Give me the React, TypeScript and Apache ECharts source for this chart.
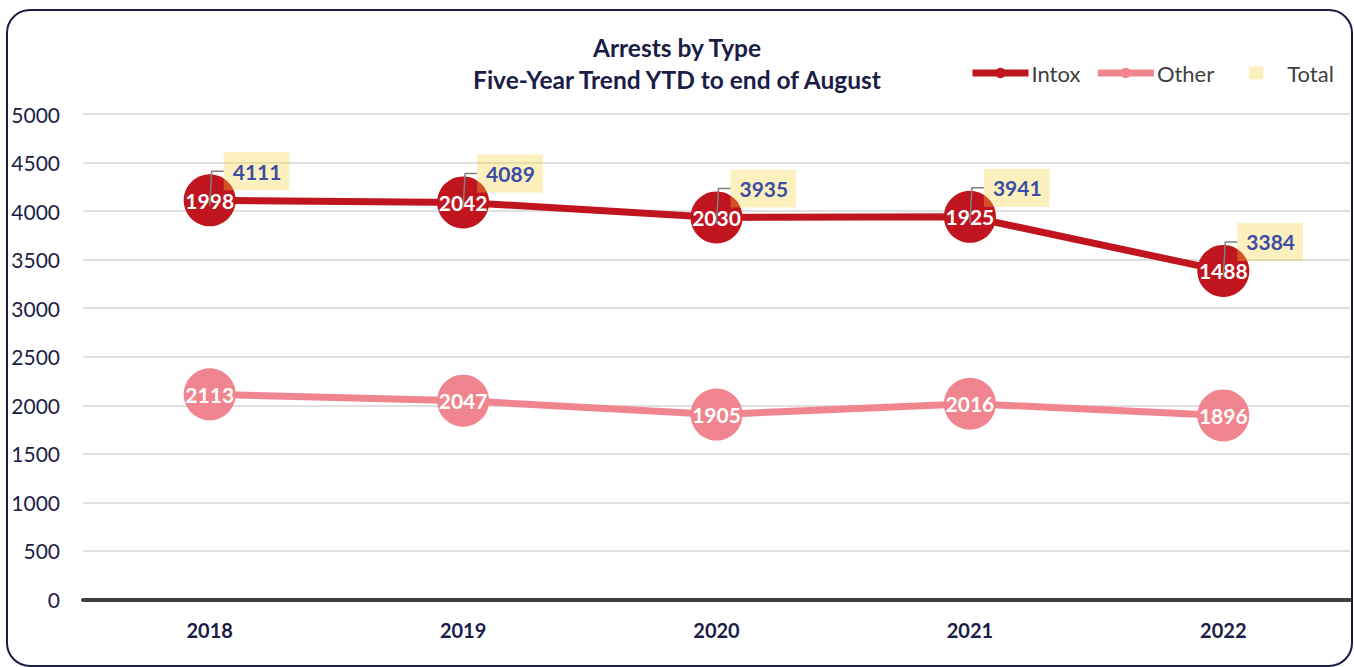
import React, { useEffect, useRef } from "react";
import * as echarts from "echarts";

// ---- data ----
const years = ["2018", "2019", "2020", "2021", "2022"];
const intox = [1998, 2042, 2030, 1925, 1488];
const other = [2113, 2047, 1905, 2016, 1896];
const totals = [4111, 4089, 3935, 3941, 3384];
const yMin = 0;
const yMax = 5000;
const yInterval = 500;

const FONT = "Lato, 'Noto Sans', sans-serif";
const NAVY = "#1b1d47";
const RED = "#c0141f";
const PINK = "#f1858f";
const BLUE = "#3b4ea3";

export default function App() {
  const ref = useRef<HTMLDivElement>(null);
  useEffect(() => {
    const chart = echarts.init(ref.current!, null, { renderer: "svg" });
    chart.setOption({
      animation: false,
      textStyle: { fontFamily: FONT },
      title: {
        text: "Arrests by Type\nFive-Year Trend YTD to end of August",
        left: "center",
        top: 31,
        padding: 0,
        textStyle: {
          fontFamily: FONT,
          fontSize: 24.5,
          fontWeight: "bold",
          color: NAVY,
          lineHeight: 32,
        },
      },
      legend: {
        left: 969,
        top: 62,
        padding: 0,
        itemWidth: 56,
        itemHeight: 13,
        itemGap: 14,
        lineStyle: { width: 7 },
        textStyle: { fontFamily: FONT, fontSize: 22, color: "#404040", padding: [0, 0, 0, -2] },
        data: [
          { name: "Intox" },
          { name: "Other" },
          {
            name: "Total",
            icon: "path://M0,0L0,0M21,0h14v13h-14zM56,13L56,13",
            itemStyle: { color: "#fcefbb" },
          },
        ],
      },
      grid: { left: 83, right: 4, top: 114, bottom: 67.5 },
      xAxis: [
        {
          type: "category",
          data: years,
          position: "bottom",
          axisLine: { lineStyle: { color: "#404040", width: 4 } },
          axisTick: { alignWithLabel: true, length: 6, lineStyle: { color: "#404040", width: 3 } },
          axisLabel: { fontFamily: FONT, fontWeight: "bold", fontSize: 20, color: NAVY, margin: 20 },
        },
        {
          type: "category",
          data: years,
          position: "top",
          axisLine: { show: false, onZero: true },
          axisTick: { alignWithLabel: true, length: 6, lineStyle: { color: "#404040", width: 3 } },
          axisLabel: { show: false },
        },
      ],
      yAxis: {
        type: "value",
        min: yMin,
        max: yMax,
        interval: yInterval,
        axisLine: { show: false },
        axisTick: { show: false },
        axisLabel: {
          fontFamily: FONT,
          fontSize: 21,
          color: NAVY,
          margin: 23,
          formatter: (v: number) => String(v),
        },
        splitLine: { lineStyle: { color: "#d6d6d6", width: 1.5 } },
      },
      series: [
        {
          name: "Other",
          type: "line",
          stack: "arrests",
          data: other,
          symbol: "circle",
          symbolSize: 52,
          lineStyle: { width: 7, color: PINK },
          itemStyle: { color: PINK },
          label: {
            show: true,
            position: "inside",
            color: "#ffffff",
            fontFamily: FONT,
            fontWeight: "bold",
            fontSize: 21,
          },
          z: 2,
        },
        {
          name: "Intox",
          type: "line",
          stack: "arrests",
          data: intox,
          symbol: "circle",
          symbolSize: 52,
          lineStyle: { width: 7, color: RED },
          itemStyle: { color: RED },
          label: {
            show: true,
            position: "inside",
            color: "#ffffff",
            fontFamily: FONT,
            fontWeight: "bold",
            fontSize: 21,
          },
          z: 3,
        },
        {
          name: "Total",
          type: "custom",
          data: totals.map((v, i) => [i, v]),
          encode: { x: 0, y: 1 },
          itemStyle: { color: "#fcefbb" },
          z: 6,
          renderItem: (params: any, api: any) => {
            const p = api.coord([api.value(0), api.value(1)]);
            const x = p[0];
            const y = p[1];
            return {
              type: "group",
              children: [
                {
                  type: "polyline",
                  shape: { points: [[x, y + 6], [x + 2, y - 29], [x + 14, y - 29]] },
                  style: { stroke: "#808080", lineWidth: 1.5, fill: null },
                },
                {
                  type: "text",
                  x: x + 14,
                  y: y - 29,
                  style: {
                    text: String(api.value(1)),
                    fill: BLUE,
                    font: "bold 21px Lato, 'Noto Sans', sans-serif",
                    align: "left",
                    verticalAlign: "middle",
                    backgroundColor: "rgba(246,209,58,0.33)",
                    padding: [9, 8, 8, 9],
                  },
                },
              ],
            };
          },
        },
      ],
    });
    return () => chart.dispose();
  }, []);

  return (
    <div style={{ position: "fixed", left: 0, top: 0, width: 1354, height: 667, background: "#fff" }}>
      <div ref={ref} style={{ position: "absolute", left: 0, top: 0, width: 1354, height: 667 }} />
      <div
        style={{
          position: "absolute",
          left: 6,
          top: 9,
          width: 1343,
          height: 654,
          border: "2.5px solid #1b1d47",
          borderRadius: 24,
          pointerEvents: "none",
        }}
      />
    </div>
  );
}
